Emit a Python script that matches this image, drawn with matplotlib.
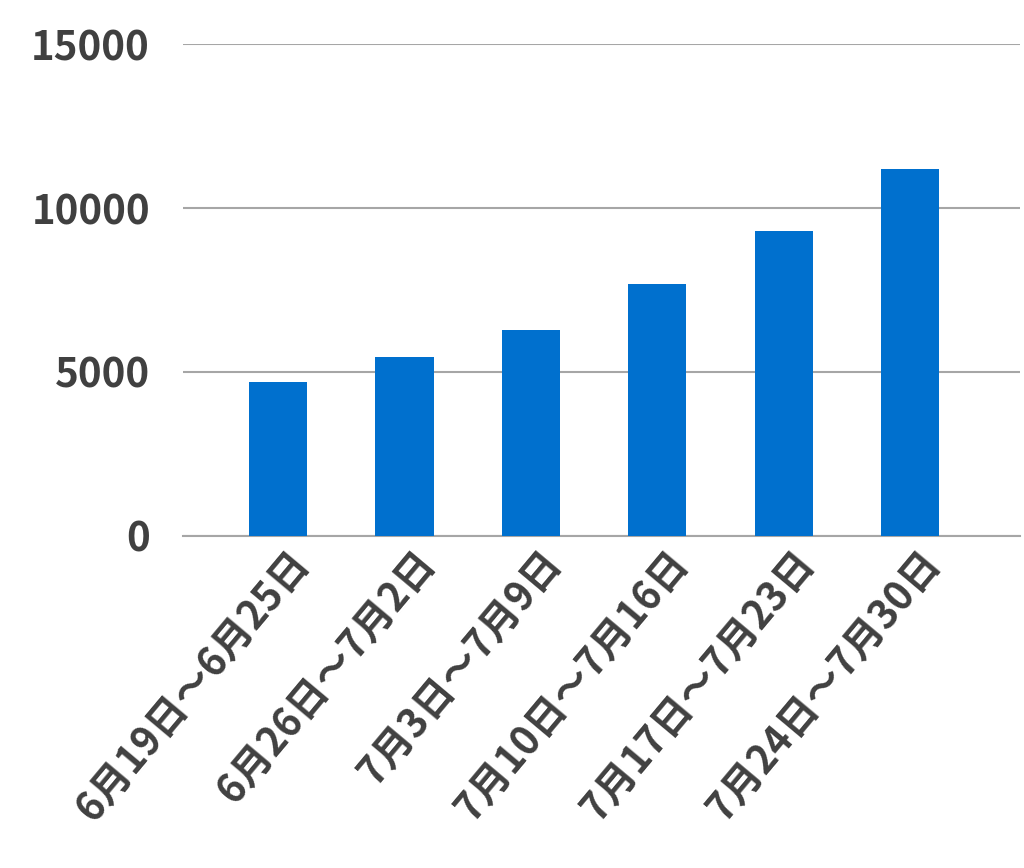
import matplotlib.pyplot as plt
import matplotlib.transforms as mtransforms

plt.rcParams['font.family'] = ['Noto Sans CJK JP', 'DejaVu Sans']

categories = ["6月19日〜6月25日", "6月26日〜7月2日", "7月3日〜7月9日",
              "7月10日〜7月16日", "7月17日〜7月23日", "7月24日〜7月30日"]
values = [4700, 5450, 6280, 7670, 9310, 11190]
yticks = [0, 5000, 10000, 15000]

text_color = "#404040"
bar_color = "#0070CE"
grid_color = "#a6a6a6"

fig = plt.figure(figsize=(10.24, 8.68), dpi=100)
ax = fig.add_axes([0.179, 0.3825, 0.817, 0.5668])

x = range(len(categories))
ax.bar(x, values, width=0.46, color=bar_color, zorder=3)

ax.set_ylim(0, 15000)
ax.set_xlim(-0.75, 5.87)
ax.set_yticks(yticks)
ax.yaxis.grid(True, color=grid_color, linewidth=1.5, zorder=0)
ax.set_axisbelow(True)

for s in ["top", "right", "left"]:
    ax.spines[s].set_visible(False)
ax.spines["bottom"].set_color(grid_color)
ax.spines["bottom"].set_linewidth(1.5)

ax.tick_params(axis="y", length=0, pad=24, labelsize=29, labelcolor=text_color)
ax.tick_params(axis="x", length=0, pad=5)
for lab in ax.get_yticklabels():
    lab.set_fontweight("bold")

ax.set_xticks(list(x))
ax.set_xticklabels(categories, rotation=50, ha="right", va="top",
                   rotation_mode="anchor", fontsize=28.5, fontweight="bold",
                   color=text_color)
# nudge labels right so they end just past the tick
shift = mtransforms.ScaledTranslation(8 / 100, 0, fig.dpi_scale_trans)
for lab in ax.get_xticklabels():
    lab.set_transform(lab.get_transform() + shift)

fig.savefig("out.png", dpi=100)
